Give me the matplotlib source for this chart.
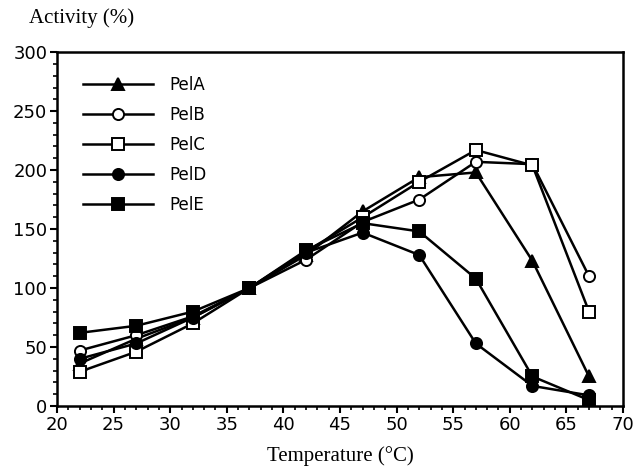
import numpy as np
import matplotlib.pyplot as plt
from matplotlib.ticker import MultipleLocator

# temperature (°C) and relative activity (%) for each pectate lyase
temps = [22, 27, 32, 37, 42, 47, 52, 57, 62, 67]
pel_a = [36, 57, 75, 100, 128, 165, 194, 198, 123, 25]
pel_b = [47, 60, 76, 100, 124, 156, 175, 207, 205, 110]
pel_c = [29, 46, 70, 100, 131, 160, 190, 217, 204, 80]
pel_d = [40, 53, 75, 100, 130, 147, 128, 53, 17, 9]
pel_e = [62, 68, 80, 100, 132, 155, 148, 108, 25, 5]

series = [
    ("PelA", pel_a, "^", "black"),
    ("PelB", pel_b, "o", "white"),
    ("PelC", pel_c, "s", "white"),
    ("PelD", pel_d, "o", "black"),
    ("PelE", pel_e, "s", "black"),
]

fig = plt.figure(figsize=(6.37, 4.74), dpi=100)
ax = fig.add_axes([0.0895, 0.1435, 0.8885, 0.7465])

for name, vals, mk, face in series:
    ax.plot(temps, vals, color="black", lw=1.8, marker=mk, markersize=8,
            markerfacecolor=face, markeredgecolor="black", markeredgewidth=1.4,
            label=name)

ax.set_xlim(20, 70)
ax.set_ylim(0, 300)
ax.xaxis.set_major_locator(MultipleLocator(5))
ax.xaxis.set_minor_locator(MultipleLocator(1))
ax.yaxis.set_major_locator(MultipleLocator(50))
ax.yaxis.set_minor_locator(MultipleLocator(10))
ax.tick_params(which="major", direction="out", length=5, width=1.5, labelsize=13, pad=2)
ax.tick_params(which="minor", direction="out", length=3, width=1.2)
for sp in ax.spines.values():
    sp.set_linewidth(1.8)

ax.set_xlabel("Temperature (°C)", fontfamily="Liberation Serif", fontsize=15, labelpad=9)
fig.text(0.045, 0.962, "Activity (%)", fontfamily="Liberation Serif", fontsize=15,
         ha="left", va="center")

leg = ax.legend(loc="upper left", frameon=False, fontsize=12, handlelength=4.2,
                handletextpad=1.0, labelspacing=0.72, borderaxespad=0.8,
                bbox_to_anchor=(0.01, 0.99))

fig.savefig("out.png", dpi=100)
